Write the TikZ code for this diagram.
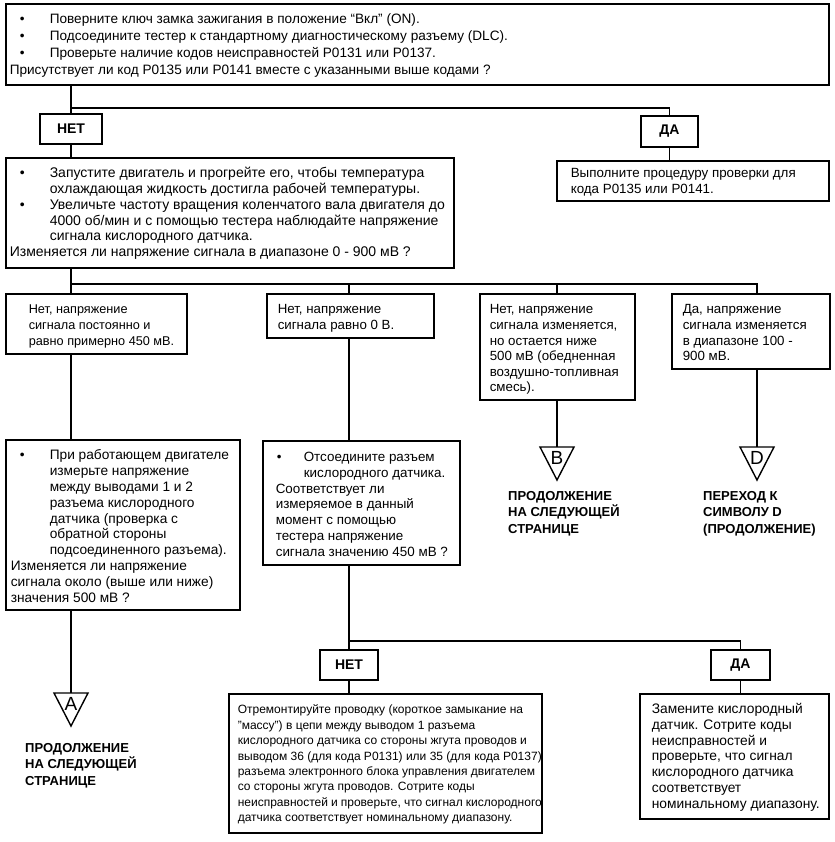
\documentclass[tikz,border=0pt]{standalone}
\usepackage{fontspec}
\setmainfont{Liberation Sans}
\usetikzlibrary{calc}
\tikzset{
  boxst/.style={draw, line width=1.6pt, inner sep=0pt, anchor=north west},
  ansst/.style={draw, line width=1.6pt, inner sep=0pt, font=\fontsize{14}{16}\selectfont\bfseries},
  conn/.style={line width=1.6pt},
  trist/.style={line width=1.4pt, line join=miter},
  letst/.style={inner sep=0pt, anchor=base, font=\fontsize{19}{20}\selectfont},
  lblst/.style={inner sep=0pt, anchor=base west, font=\fontsize{13}{16.5}\selectfont\bfseries},
}
\def\curpad{0}
\def\curfs{\fontsize{13}{15.8}\selectfont}
\newcommand{\setbf}[2]{\def\curfs{\fontsize{#1}{#2}\selectfont}}
\newcommand{\bul}[3]{\hangindent=\dimexpr#2pt-\curpad pt\relax\hangafter=1\makebox[\dimexpr#2pt-\curpad pt\relax][l]{\hspace*{\dimexpr#1pt-\curpad pt\relax}•}#3\par}
\newcommand{\pbox}[8]{%
  \pgfmathsetlengthmacro{\bw}{(#4-#2)*1pt}%
  \pgfmathsetlengthmacro{\bh}{(#5-#3)*1pt}%
  \node[boxst] (#1) at (#2,-#3) {\parbox[c][\bh][t]{\bw}{\curfs\def\curpad{#6}\rightskip=0pt plus 1fil\relax\leftskip=#6pt\relax\vspace*{\dimexpr#7pt-\ht\strutbox\relax}\leavevmode\strut#8}};%
}
\newcommand{\tribox}[4]{% name, x, ytop, letter
  \coordinate (#1) at (#2,-#3);
  \draw[trist] ($(#1)+(-17,0)$) -- ($(#1)+(17,0)$) -- ($(#1)+(0,-33)$) -- cycle;
  \node[letst] (#1l) at ($(#1)+(0,-17.5)$) {#4};
}
\begin{document}
\begin{tikzpicture}[x=1pt,y=1pt]
\useasboundingbox (0,0) rectangle (834,-842);

% top question
\setbf{13.6}{17}
\pbox{top}{5}{3}{828}{84}{4}{20}{%
\bul{14}{44}{Поверните ключ замка зажигания в положение “Вкл” (ON).}
\bul{14}{44}{Подсоедините тестер к стандартному диагностическому разъему (DLC).}
\bul{14}{44}{Проверьте наличие кодов неисправностей P0131 или P0137.}
Присутствует ли код P0135 или P0141 вместе с указанными выше кодами ?}

\node[ansst, minimum width=62pt, minimum height=30pt] (net1) at (71,-129) {НЕТ};
\node[ansst, minimum width=57pt, minimum height=31pt] (da1) at (669.5,-131.5) {ДА};

\setbf{13.35}{16}
\pbox{da1a}{556}{160}{828}{200}{14}{17}{Выполните процедуру проверки для\\
кода P0135 или P0141.}

\setbf{14}{15.8}
\pbox{q2}{5}{157}{453}{267}{4}{20}{%
\bul{14}{44}{Запустите двигатель и прогрейте его, чтобы температура\\ охлаждающая жидкость достигла рабочей температуры.}
\bul{14}{44}{Увеличьте частоту вращения коленчатого вала двигателя до\\ 4000 об/мин и с помощью тестера наблюдайте напряжение\\ сигнала кислородного датчика.}
Изменяется ли напряжение сигнала в диапазоне 0 - 900 мВ ?}

\setbf{12.7}{15.6}
\pbox{r1}{5}{293}{186}{353}{23}{20}{Нет, напряжение\\ сигнала постоянно и\\ равно примерно 450 мВ.}
\setbf{13.3}{15.6}
\pbox{r2}{266}{293}{433}{337}{11}{20}{Нет, напряжение\\ сигнала равно 0 В.}
\pbox{r3}{479}{293}{634}{399}{10}{20}{Нет, напряжение\\ сигнала изменяется,\\ но остается ниже\\ 500 мВ (обедненная\\ воздушно-топливная\\ смесь).}
\pbox{r4}{671}{293}{829}{368}{11}{20}{Да, напряжение\\ сигнала изменяется\\ в диапазоне 100 -\\ 900 мВ.}

\setbf{13.7}{15.8}
\pbox{la}{5}{439}{239}{609}{5}{20}{%
\bul{14}{44}{При работающем двигателе\\ измерьте напряжение\\ между выводами 1 и 2\\ разъема кислородного\\ датчика (проверка с\\ обратной стороны\\ подсоединенного разъема).}
Изменяется ли напряжение\\ сигнала около (выше или ниже)\\ значения 500 мВ ?}

\setbf{13.4}{15.7}
\pbox{lb}{262}{440}{459}{564}{13}{21}{%
\bul{14}{41}{Отсоедините разъем\\ кислородного датчика.}
Соответствует ли\\ измеряемое в данный\\ момент с помощью\\ тестера напряжение\\ сигнала значению 450 мВ ?}

\node[ansst, minimum width=58pt, minimum height=30pt] (net2) at (349,-665) {НЕТ};
\node[ansst, minimum width=59pt, minimum height=30pt] (da2) at (740.5,-665) {ДА};

\setbf{12}{15.4}
\pbox{rep}{228}{693}{541}{832}{9}{20}{Отремонтируйте проводку (короткое замыкание на\\ "массу") в цепи между выводом 1 разъема\\ кислородного датчика со стороны жгута проводов и\\ выводом 36 (для кода P0131) или 35 (для кода P0137)\\ разъема электронного блока управления двигателем\\ со стороны жгута проводов. Сотрите коды\\ неисправностей и проверьте, что сигнал кислородного\\ датчика соответствует номинальному диапазону.}

\setbf{13.8}{15.7}
\pbox{da2a}{639}{693}{828}{818}{12}{20}{Замените кислородный\\ датчик. Сотрите коды\\ неисправностей и\\ проверьте, что сигнал\\ кислородного датчика\\ соответствует\\ номинальному диапазону.}

% off-page triangles
\tribox{tA}{71}{693}{A}
\tribox{tB}{557}{447}{B}
\tribox{tD}{757}{447}{D}

\node[lblst] (lA) at (25,-752) {\parbox[t]{150pt}{ПРОДОЛЖЕНИЕ\\ НА СЛЕДУЮЩЕЙ\\ СТРАНИЦЕ}};
\node[lblst] (lB) at (508,-500) {\parbox[t]{150pt}{ПРОДОЛЖЕНИЕ\\ НА СЛЕДУЮЩЕЙ\\ СТРАНИЦЕ}};
\node[lblst] (lD) at (703,-500) {\parbox[t]{150pt}{ПЕРЕХОД К\\ СИМВОЛУ D\\ (ПРОДОЛЖЕНИЕ)}};

% connectors
\coordinate (j1) at (71,-108);
\draw[conn] (top.south -| net1.north) -- (net1.north);
\draw[conn] (j1) -| (da1.north);
\draw[conn] (da1.south) -- (da1a.north -| da1.south);
\draw[conn] (net1.south) -- (q2.north -| net1.south);

\coordinate (c1) at (71,-284);
\coordinate (c2) at (349,-284);
\coordinate (c3) at (557,-284);
\coordinate (c4) at (757,-284);
\draw[conn] (q2.south -| c1) -- (r1.north -| c1);
\draw[conn] (c1) -- (c4) -- (r4.north -| c4);
\draw[conn] (c2) -- (r2.north -| c2);
\draw[conn] (c3) -- (r3.north -| c3);
\draw[conn] (r1.south -| c1) -- (la.north -| c1);
\draw[conn] (r2.south -| c2) -- (lb.north -| c2);
\draw[conn] (r3.south -| c3) -- (tB);
\draw[conn] (r4.south -| c4) -- (tD);
\draw[conn] (la.south -| c1) -- (tA);

\coordinate (j3) at (349,-641);
\draw[conn] (lb.south -| j3) -- (net2.north);
\draw[conn] (j3) -| (da2.north);
\draw[conn] (net2.south) -- (rep.north -| net2.south);
\draw[conn] (da2.south) -- (da2a.north -| da2.south);
\end{tikzpicture}
\end{document}
